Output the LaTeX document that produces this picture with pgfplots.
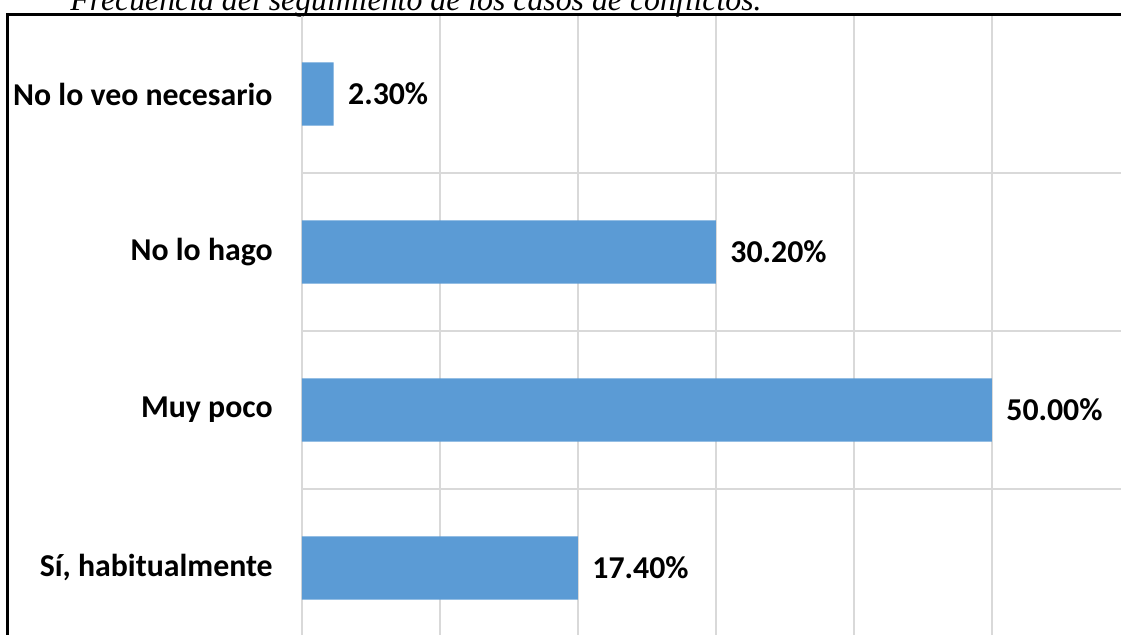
\documentclass[border=0pt]{standalone}
\usepackage{fontspec}
\setmainfont{Carlito}
\newfontfamily\titlefont{Liberation Serif}
\usepackage{pgfplots}
\usepackage{pgfplotstable}
\pgfplotsset{compat=1.18}

\definecolor{barblue}{HTML}{5B9BD5}
\definecolor{gridgray}{HTML}{D9D9D9}

% bar length (as drawn) and printed value
\pgfplotstableread{
pos len label
0 20.0 17.40
1 50.0 50.00
2 30.0 30.20
3 2.3  2.30
}\seguimiento

% 1 px of the reference = 0.5pt, origin at the top left corner
\begin{document}
\begin{tikzpicture}
\useasboundingbox (0pt,0pt) rectangle (560.5pt,-317.5pt);
\clip (0pt,0pt) rectangle (560.5pt,-317.5pt);

\node[anchor=base west,inner sep=0pt,font=\titlefont\itshape\fontsize{15.9}{19}\selectfont]
  at (35pt,-5.3pt) {Frecuencia del seguimiento de los casos de conflictos.};

\begin{axis}[
    at={(151pt,-7.5pt)}, anchor=north west,
    scale only axis,
    width=414pt, height=316pt,
    xmin=0, xmax=60,
    ymin=-0.5, ymax=3.5,
    xbar, bar width=0.4,
    axis line style={draw=none},
    major tick length=0pt, minor tick length=0pt,
    xtick={0,10,...,60}, xticklabels={,,,,,,,},
    xmajorgrids,
    ytick={0,1,2,3},
    yticklabels={{Sí, habitualmente},{Muy poco},{No lo hago},{No lo veo necesario}},
    minor ytick={0.5,1.5,2.5},
    yminorgrids,
    grid style={gridgray, line width=0.75pt},
    minor grid style={gridgray, line width=0.75pt},
    yticklabel style={font=\bfseries\fontsize{15.9}{18}\selectfont, inner sep=0pt, xshift=-14.5pt},
    point meta=explicit symbolic,
    nodes near coords={\pgfplotspointmeta\%},
    nodes near coords style={anchor=west, inner sep=0pt, xshift=7pt,
        font=\bfseries\fontsize{15.9}{18}\selectfont, text=black},
]
\addplot[fill=barblue, draw=none] table[x=len, y=pos, meta=label] {\seguimiento};
\end{axis}

\draw[line width=1.5pt] (3.75pt,-330pt) -- (3.75pt,-7.5pt) -- (570pt,-7.5pt);
\end{tikzpicture}
\end{document}
